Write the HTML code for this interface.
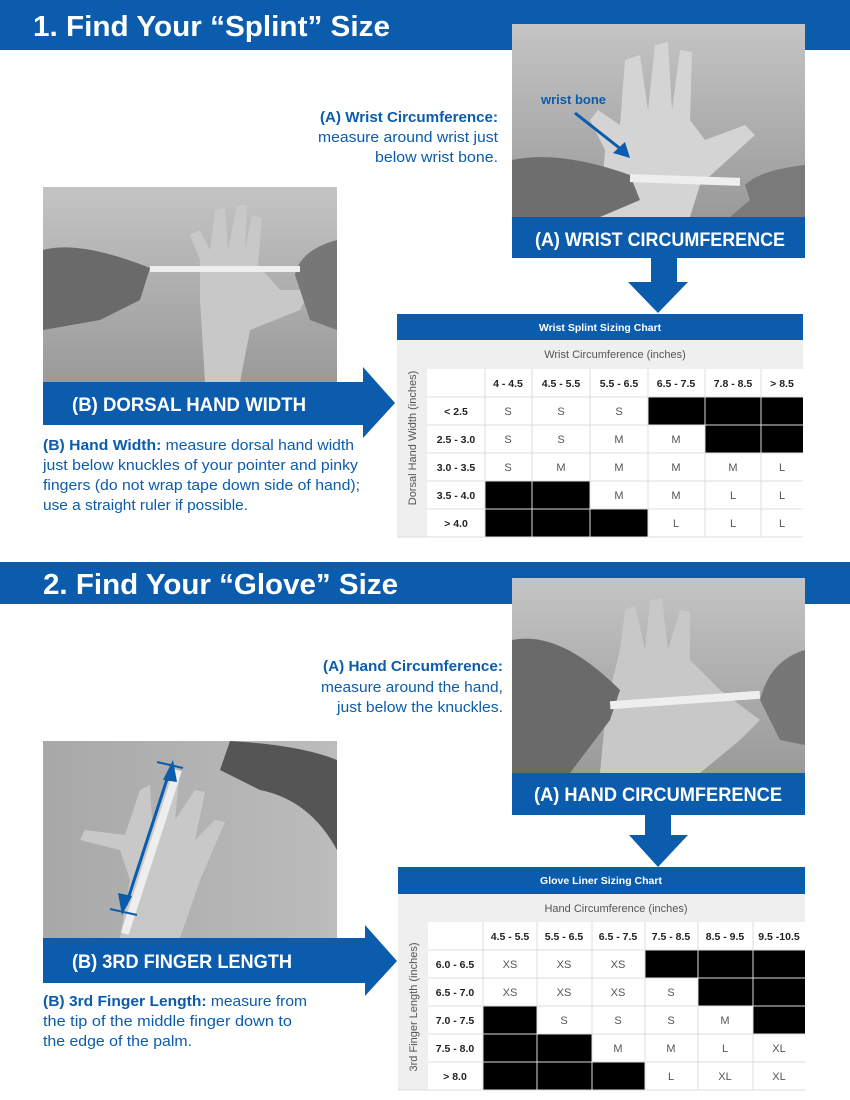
<!DOCTYPE html>
<html><head><meta charset="utf-8"><style>
html,body{margin:0;padding:0;background:#fff;}
svg{display:block;}
text{font-family:"Liberation Sans",sans-serif;}
</style></head><body>
<svg width="850" height="1100" viewBox="0 0 850 1100" xmlns="http://www.w3.org/2000/svg">
<defs>
<linearGradient id="ph" x1="0" y1="0" x2="0" y2="1"><stop offset="0" stop-color="#c4c4c4"/><stop offset="1" stop-color="#9a9a9a"/></linearGradient>
<linearGradient id="ph2" x1="0" y1="0" x2="1" y2="0"><stop offset="0" stop-color="#a8a8a8"/><stop offset="1" stop-color="#bcbcbc"/></linearGradient>
</defs>
<!-- Section 1 title -->
<rect x="0" y="0" width="850" height="50" fill="#0b5cad"/>
<text x="33" y="36" font-size="29" font-weight="bold" fill="#fff" textLength="357" lengthAdjust="spacingAndGlyphs">1. Find Your “Splint” Size</text>

<!-- Photo A1 -->
<rect x="512" y="24" width="293" height="193" fill="url(#ph)"/>
<path d="M600 217 L605 150 L590 120 L598 110 L620 125 L625 60 L640 55 L648 110 L655 45 L668 42 L672 110 L680 50 L692 52 L690 120 L705 140 L745 125 L755 135 L700 185 L690 217 Z" fill="#d4d4d4"/>
<path d="M512 160 Q560 150 630 175 L640 200 L600 217 L512 217 Z" fill="#6e6e6e"/>
<path d="M805 165 Q760 170 745 185 L750 200 L730 217 L805 217 Z" fill="#7a7a7a"/>
<rect x="630" y="176" width="110" height="8" fill="#eee" transform="rotate(2 685 180)"/>
<text x="541" y="104" font-size="13" font-weight="bold" fill="#0b5cad" textLength="65" lengthAdjust="spacingAndGlyphs">wrist bone</text>
<line x1="575" y1="113" x2="622" y2="150" stroke="#0b5cad" stroke-width="3"/>
<polygon points="630,158 613,153 625,142" fill="#0b5cad"/>
<rect x="512" y="217" width="293" height="41" fill="#0b5cad"/>
<text x="535" y="246" font-size="19" font-weight="bold" fill="#fff" textLength="250" lengthAdjust="spacingAndGlyphs">(A) WRIST CIRCUMFERENCE</text>
<rect x="651" y="257" width="26" height="26" fill="#0b5cad"/>
<polygon points="628,282 688,282 658,313" fill="#0b5cad"/>

<!-- Text A1 -->
<g font-size="14.5" fill="#0b5cad" text-anchor="end">
<text x="498" y="122" font-weight="bold" textLength="178" lengthAdjust="spacingAndGlyphs">(A) Wrist Circumference:</text>
<text x="498" y="142" textLength="180" lengthAdjust="spacingAndGlyphs">measure around wrist just</text>
<text x="498" y="162" textLength="123" lengthAdjust="spacingAndGlyphs">below wrist bone.</text>
</g>

<!-- Photo B1 -->
<rect x="43" y="187" width="294" height="195" fill="url(#ph)"/>
<path d="M205 382 L200 300 L200 260 L190 235 L200 230 L210 250 L215 210 L225 208 L228 250 L237 205 L247 205 L245 250 L252 215 L262 218 L258 265 L280 290 L310 290 L300 310 L250 330 L240 382 Z" fill="#c8c8c8"/>
<path d="M43 250 Q80 240 150 268 L140 300 L100 320 L43 330 Z" fill="#6a6a6a"/>
<path d="M337 240 Q300 250 295 275 L310 320 L337 330 Z" fill="#777"/>
<rect x="150" y="266" width="150" height="6" fill="#eee"/>
<rect x="43" y="382" width="321" height="43" fill="#0b5cad"/>
<polygon points="363,367 395,403 363,438" fill="#0b5cad"/>
<text x="72" y="411" font-size="19" font-weight="bold" fill="#fff" textLength="234" lengthAdjust="spacingAndGlyphs">(B) DORSAL HAND WIDTH</text>
<g font-size="14.5" fill="#0b5cad">
<text x="43" y="450" textLength="311" lengthAdjust="spacingAndGlyphs"><tspan font-weight="bold">(B) Hand Width:</tspan>  measure dorsal hand width</text>
<text x="43" y="470" textLength="315" lengthAdjust="spacingAndGlyphs">just below knuckles of your pointer and pinky</text>
<text x="43" y="490" textLength="317" lengthAdjust="spacingAndGlyphs">fingers (do not wrap tape down side of hand);</text>
<text x="43" y="510" textLength="205" lengthAdjust="spacingAndGlyphs">use a straight ruler if possible.</text>
</g>

<!-- Table 1 -->
<g>
<rect x="397" y="314" width="406" height="26" fill="#0b5cad"/>
<text x="600" y="331" font-size="10.5" font-weight="bold" fill="#fff" text-anchor="middle">Wrist Splint Sizing Chart</text>
<rect x="397" y="340" width="30" height="197" fill="#efefef"/>
<rect x="427" y="340" width="376" height="29" fill="#efefef"/>
<rect x="427" y="369" width="376" height="168" fill="#fff"/>
<text transform="translate(416 438) rotate(-90)" font-size="11" fill="#555" text-anchor="middle">Dorsal Hand Width (inches)</text>
<text x="615" y="358" font-size="11" fill="#555" text-anchor="middle">Wrist Circumference (inches)</text>
<g fill="#000">
<rect x="648" y="397" width="57" height="28"/><rect x="705" y="397" width="56" height="28"/><rect x="761" y="397" width="42" height="28"/>
<rect x="705" y="425" width="56" height="28"/><rect x="761" y="425" width="42" height="28"/>
<rect x="485" y="481" width="47" height="28"/><rect x="532" y="481" width="58" height="28"/>
<rect x="485" y="509" width="47" height="28"/><rect x="532" y="509" width="58" height="28"/><rect x="590" y="509" width="58" height="28"/>
</g>
<g stroke="#dcdcdc" stroke-width="1">
<line x1="427" y1="397" x2="803" y2="397"/><line x1="427" y1="425" x2="803" y2="425"/><line x1="427" y1="453" x2="803" y2="453"/><line x1="427" y1="481" x2="803" y2="481"/><line x1="427" y1="509" x2="803" y2="509"/><line x1="397" y1="537" x2="803" y2="537"/>
<line x1="485" y1="369" x2="485" y2="537"/><line x1="532" y1="369" x2="532" y2="537"/><line x1="590" y1="369" x2="590" y2="537"/><line x1="648" y1="369" x2="648" y2="537"/><line x1="705" y1="369" x2="705" y2="537"/><line x1="761" y1="369" x2="761" y2="537"/>
</g>
<g font-size="10.5" font-weight="bold" fill="#222" text-anchor="middle">
<text x="508" y="387">4 - 4.5</text><text x="561" y="387">4.5 - 5.5</text><text x="619" y="387">5.5 - 6.5</text><text x="676" y="387">6.5 - 7.5</text><text x="733" y="387">7.8 - 8.5</text><text x="782" y="387">&gt; 8.5</text>
<text x="456" y="415">&lt; 2.5</text><text x="456" y="443">2.5 - 3.0</text><text x="456" y="471">3.0 - 3.5</text><text x="456" y="499">3.5 - 4.0</text><text x="456" y="527">&gt; 4.0</text>
</g>
<g font-size="11" fill="#555" text-anchor="middle">
<text x="508" y="415">S</text><text x="561" y="415">S</text><text x="619" y="415">S</text>
<text x="508" y="443">S</text><text x="561" y="443">S</text><text x="619" y="443">M</text><text x="676" y="443">M</text>
<text x="508" y="471">S</text><text x="561" y="471">M</text><text x="619" y="471">M</text><text x="676" y="471">M</text><text x="733" y="471">M</text><text x="782" y="471">L</text>
<text x="619" y="499">M</text><text x="676" y="499">M</text><text x="733" y="499">L</text><text x="782" y="499">L</text>
<text x="676" y="527">L</text><text x="733" y="527">L</text><text x="782" y="527">L</text>
</g>
</g>

<!-- Section 2 title -->
<rect x="0" y="562" width="850" height="42" fill="#0b5cad"/>
<text x="43" y="594" font-size="29" font-weight="bold" fill="#fff" textLength="355" lengthAdjust="spacingAndGlyphs">2. Find Your “Glove” Size</text>

<!-- Photo A2 -->
<rect x="512" y="578" width="293" height="195" fill="url(#ph)"/>
<path d="M600 773 L605 720 L610 690 L620 650 L625 610 L635 605 L645 650 L650 600 L662 598 L668 650 L680 610 L690 612 L690 660 L720 690 L760 720 L740 740 L700 773 Z" fill="#c8c8c8"/>
<path d="M512 640 Q560 630 620 690 L610 720 L570 773 L512 773 Z" fill="#6a6a6a"/>
<path d="M805 650 Q770 660 760 700 L780 740 L805 745 Z" fill="#777"/>
<rect x="610" y="696" width="150" height="8" fill="#eee" transform="rotate(-4 685 700)"/>
<rect x="512" y="773" width="293" height="42" fill="#0b5cad"/>
<text x="534" y="801" font-size="19" font-weight="bold" fill="#fff" textLength="248" lengthAdjust="spacingAndGlyphs">(A) HAND CIRCUMFERENCE</text>
<rect x="645" y="814" width="26" height="22" fill="#0b5cad"/>
<polygon points="629,835 688,835 658,867" fill="#0b5cad"/>
<g font-size="14.5" fill="#0b5cad" text-anchor="end">
<text x="503" y="671" font-weight="bold" textLength="180" lengthAdjust="spacingAndGlyphs">(A) Hand Circumference:</text>
<text x="503" y="692" textLength="182" lengthAdjust="spacingAndGlyphs">measure around the hand,</text>
<text x="503" y="712" textLength="166" lengthAdjust="spacingAndGlyphs">just below the knuckles.</text>
</g>

<!-- Photo B2 -->
<rect x="43" y="741" width="294" height="197" fill="url(#ph2)"/>
<path d="M230 741 Q300 745 337 760 L337 850 Q310 800 260 790 L220 770 Z" fill="#555"/>
<path d="M120 938 L130 880 L120 850 L80 840 L85 830 L125 835 L140 790 L150 785 L152 820 L165 780 L180 770 L175 820 L195 790 L205 792 L195 840 L215 820 L225 822 L200 880 L180 938 Z" fill="#c8c8c8"/>
<rect x="148" y="766" width="8" height="172" fill="#eee" transform="rotate(18 152 850)"/>
<line x1="170" y1="770" x2="126" y2="905" stroke="#0b5cad" stroke-width="3"/>
<polygon points="173,760 163,780 177,782" fill="#0b5cad"/>
<polygon points="122,915 118,893 132,896" fill="#0b5cad"/>
<line x1="157" y1="762" x2="183" y2="768" stroke="#0b5cad" stroke-width="2"/>
<line x1="110" y1="909" x2="137" y2="915" stroke="#0b5cad" stroke-width="2"/>
<rect x="43" y="938" width="323" height="45" fill="#0b5cad"/>
<polygon points="365,925 397,961 365,996" fill="#0b5cad"/>
<text x="72" y="968" font-size="19" font-weight="bold" fill="#fff" textLength="220" lengthAdjust="spacingAndGlyphs">(B) 3RD FINGER LENGTH</text>
<g font-size="14.5" fill="#0b5cad">
<text x="43" y="1006" textLength="264" lengthAdjust="spacingAndGlyphs"><tspan font-weight="bold">(B) 3rd Finger Length:</tspan>  measure from</text>
<text x="43" y="1026" textLength="249" lengthAdjust="spacingAndGlyphs">the tip of the middle finger down to</text>
<text x="43" y="1046" textLength="149" lengthAdjust="spacingAndGlyphs">the edge of the palm.</text>
</g>

<!-- Table 2 -->
<g>
<rect x="398" y="867" width="407" height="27" fill="#0b5cad"/>
<text x="601" y="884" font-size="10.5" font-weight="bold" fill="#fff" text-anchor="middle">Glove Liner Sizing Chart</text>
<rect x="398" y="894" width="30" height="196" fill="#efefef"/>
<rect x="428" y="894" width="377" height="28" fill="#efefef"/>
<rect x="428" y="922" width="377" height="168" fill="#fff"/>
<text transform="translate(417 1007) rotate(-90)" font-size="11" fill="#555" text-anchor="middle">3rd Finger Length (inches)</text>
<text x="616" y="912" font-size="11" fill="#555" text-anchor="middle">Hand Circumference (inches)</text>
<g fill="#000">
<rect x="645" y="950" width="53" height="28"/><rect x="698" y="950" width="55" height="28"/><rect x="753" y="950" width="52" height="28"/>
<rect x="698" y="978" width="55" height="28"/><rect x="753" y="978" width="52" height="28"/>
<rect x="483" y="1006" width="54" height="28"/><rect x="753" y="1006" width="52" height="28"/>
<rect x="483" y="1034" width="54" height="28"/><rect x="537" y="1034" width="55" height="28"/>
<rect x="483" y="1062" width="54" height="28"/><rect x="537" y="1062" width="55" height="28"/><rect x="592" y="1062" width="53" height="28"/>
</g>
<g stroke="#dcdcdc" stroke-width="1">
<line x1="428" y1="950" x2="805" y2="950"/><line x1="428" y1="978" x2="805" y2="978"/><line x1="428" y1="1006" x2="805" y2="1006"/><line x1="428" y1="1034" x2="805" y2="1034"/><line x1="428" y1="1062" x2="805" y2="1062"/><line x1="398" y1="1090" x2="805" y2="1090"/>
<line x1="483" y1="922" x2="483" y2="1090"/><line x1="537" y1="922" x2="537" y2="1090"/><line x1="592" y1="922" x2="592" y2="1090"/><line x1="645" y1="922" x2="645" y2="1090"/><line x1="698" y1="922" x2="698" y2="1090"/><line x1="753" y1="922" x2="753" y2="1090"/>
</g>
<g font-size="10.5" font-weight="bold" fill="#222" text-anchor="middle">
<text x="510" y="940">4.5 - 5.5</text><text x="564" y="940">5.5 - 6.5</text><text x="618" y="940">6.5 - 7.5</text><text x="671" y="940">7.5 - 8.5</text><text x="725" y="940">8.5 - 9.5</text><text x="779" y="940">9.5 -10.5</text>
<text x="455" y="968">6.0 - 6.5</text><text x="455" y="996">6.5 - 7.0</text><text x="455" y="1024">7.0 - 7.5</text><text x="455" y="1052">7.5 - 8.0</text><text x="455" y="1080">&gt; 8.0</text>
</g>
<g font-size="11" fill="#555" text-anchor="middle">
<text x="510" y="968">XS</text><text x="564" y="968">XS</text><text x="618" y="968">XS</text>
<text x="510" y="996">XS</text><text x="564" y="996">XS</text><text x="618" y="996">XS</text><text x="671" y="996">S</text>
<text x="564" y="1024">S</text><text x="618" y="1024">S</text><text x="671" y="1024">S</text><text x="725" y="1024">M</text>
<text x="618" y="1052">M</text><text x="671" y="1052">M</text><text x="725" y="1052">L</text><text x="779" y="1052">XL</text>
<text x="671" y="1080">L</text><text x="725" y="1080">XL</text><text x="779" y="1080">XL</text>
</g>
</g>
</svg>
</body></html>
